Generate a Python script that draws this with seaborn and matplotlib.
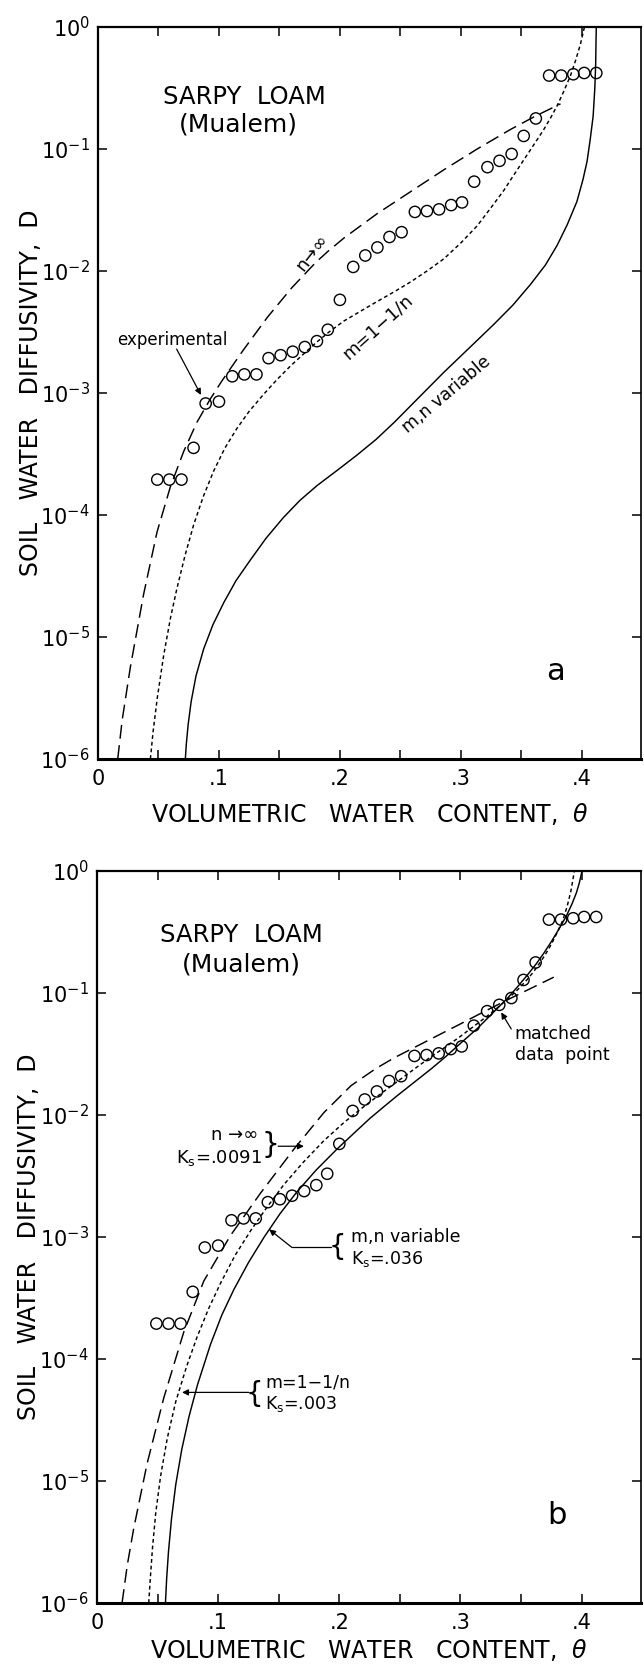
import numpy as np
import matplotlib
matplotlib.use("Agg")
import matplotlib.pyplot as plt
import seaborn as sns
from matplotlib.ticker import FixedLocator, FixedFormatter, NullLocator

# ---------------------------------------------------------------------------
# Measured diffusivity, Sarpy loam (volumetric water content, D)
# ---------------------------------------------------------------------------
theta_obs = [0.049, 0.059, 0.069, 0.079, 0.089, 0.100, 0.111, 0.121, 0.131,
             0.141, 0.151, 0.161, 0.171, 0.181, 0.190, 0.200, 0.211, 0.221,
             0.231, 0.241, 0.251, 0.262, 0.272, 0.282, 0.292, 0.301, 0.311,
             0.322, 0.332, 0.342, 0.352, 0.362, 0.373, 0.383, 0.393, 0.402,
             0.412]
D_obs = [1.95e-4, 1.95e-4, 1.95e-4, 3.55e-4, 8.2e-4, 8.5e-4, 1.37e-3, 1.42e-3,
         1.42e-3, 1.93e-3, 2.04e-3, 2.18e-3, 2.38e-3, 2.66e-3, 3.3e-3, 5.8e-3,
         0.0108, 0.0134, 0.0156, 0.0190, 0.0208, 0.0305, 0.0310, 0.0320,
         0.0347, 0.0365, 0.054, 0.071, 0.080, 0.091, 0.128, 0.178, 0.40, 0.40,
         0.41, 0.42, 0.42]

# ---------------------------------------------------------------------------
# Predicted curves, panel a  (theta, log10 D)
# ---------------------------------------------------------------------------
a_inf_theta = [0.0163, 0.020, 0.0267, 0.0377, 0.0488, 0.0598, 0.0708, 0.0818,
               0.0928, 0.1025, 0.120, 0.140, 0.160, 0.180, 0.190, 0.2033,
               0.2308, 0.2584, 0.286, 0.3135, 0.341, 0.3617, 0.3824]
a_inf_logD = [-6.0, -5.68, -5.25, -4.65, -4.14, -3.77, -3.48, -3.24, -3.05,
              -2.90, -2.65, -2.38, -2.14, -1.93, -1.84, -1.73, -1.53, -1.35,
              -1.17, -1.00, -0.84, -0.73, -0.63]

a_vg_theta = [0.0433, 0.0455, 0.0490, 0.0543, 0.0600, 0.0653, 0.0720, 0.0791,
              0.0870, 0.0956, 0.105, 0.1149, 0.125, 0.137, 0.148, 0.159, 0.170,
              0.180, 0.191, 0.2033, 0.217, 0.2308, 0.245, 0.2584, 0.272,
              0.286, 0.300, 0.3135, 0.325, 0.3355, 0.344, 0.352, 0.360,
              0.3686, 0.3745, 0.3796, 0.385, 0.3906, 0.395, 0.3989, 0.4022]
a_vg_logD = [-6.0, -5.78, -5.50, -5.15, -4.84, -4.60, -4.33, -4.08, -3.85,
             -3.64, -3.45, -3.29, -3.15, -3.01, -2.89, -2.78, -2.68, -2.59,
             -2.50, -2.41, -2.33, -2.25, -2.17, -2.09, -2.00, -1.90, -1.77,
             -1.63, -1.48, -1.34, -1.21, -1.09, -0.97, -0.84, -0.74, -0.645,
             -0.53, -0.40, -0.27, -0.14, 0.0]

a_mn_theta = [0.0722, 0.0730, 0.0745, 0.0770, 0.0810, 0.0873, 0.095, 0.1039,
              0.114, 0.1259, 0.139, 0.1534, 0.167, 0.181, 0.197, 0.214, 0.230,
              0.245, 0.265, 0.286, 0.306, 0.327, 0.343, 0.3576, 0.370, 0.3796,
              0.388, 0.396, 0.401, 0.4044, 0.407, 0.4094, 0.4108, 0.4115,
              0.4118, 0.4120]
a_mn_logD = [-6.0, -5.88, -5.72, -5.53, -5.32, -5.10, -4.90, -4.72, -4.54,
             -4.37, -4.19, -4.02, -3.88, -3.76, -3.64, -3.51, -3.38, -3.24,
             -3.04, -2.83, -2.64, -2.44, -2.28, -2.11, -1.95, -1.79, -1.62,
             -1.43, -1.25, -1.10, -0.92, -0.73, -0.50, -0.30, -0.10, 0.0]

# ---------------------------------------------------------------------------
# Predicted curves, panel b  (theta, log10 D)
# ---------------------------------------------------------------------------
b_inf_theta = [0.0207, 0.025, 0.0303, 0.0413, 0.0551, 0.0716, 0.0882, 0.110,
               0.135, 0.1625, 0.1873, 0.2096, 0.230, 0.2455, 0.273, 0.3006,
               0.320, 0.342, 0.377]
b_inf_logD = [-6.0, -5.69, -5.39, -4.86, -4.32, -3.78, -3.36, -2.99, -2.64,
              -2.28, -1.98, -1.76, -1.62, -1.53, -1.39, -1.25, -1.15, -1.04,
              -0.87]

b_vg_theta = [0.0427, 0.0440, 0.0458, 0.0485, 0.0525, 0.0580, 0.0650, 0.0740,
              0.0826, 0.092, 0.1019, 0.114, 0.1267, 0.140, 0.1543, 0.170,
              0.1873, 0.204, 0.2204, 0.235, 0.250, 0.263, 0.276, 0.288, 0.300,
              0.310, 0.320, 0.330, 0.340, 0.348, 0.355, 0.360, 0.365, 0.370,
              0.375, 0.380, 0.3846, 0.388, 0.391, 0.394]
b_vg_logD = [-6.0, -5.80, -5.55, -5.26, -4.96, -4.65, -4.35, -4.06, -3.82,
             -3.59, -3.38, -3.15, -2.95, -2.76, -2.57, -2.39, -2.21, -2.06,
             -1.93, -1.82, -1.71, -1.615, -1.52, -1.44, -1.355, -1.28, -1.205,
             -1.125, -1.04, -0.965, -0.89, -0.83, -0.76, -0.685, -0.60, -0.50,
             -0.40, -0.29, -0.17, 0.0]

b_mn_theta = [0.0565, 0.0575, 0.0590, 0.0615, 0.0650, 0.0700, 0.0760, 0.0830,
              0.0937, 0.103, 0.113, 0.125, 0.138, 0.151, 0.165, 0.181, 0.198,
              0.212, 0.225, 0.237, 0.248, 0.262, 0.276, 0.288, 0.298, 0.306,
              0.314, 0.323, 0.331, 0.339, 0.347, 0.355, 0.3626, 0.369, 0.3749,
              0.381, 0.3873, 0.392, 0.3956, 0.398, 0.4003]
b_mn_logD = [-6.0, -5.80, -5.58, -5.31, -5.03, -4.74, -4.47, -4.21, -3.88,
             -3.64, -3.43, -3.21, -3.00, -2.81, -2.63, -2.45, -2.28, -2.15,
             -2.03, -1.93, -1.84, -1.73, -1.62, -1.52, -1.43, -1.36, -1.29,
             -1.20, -1.12, -1.04, -0.95, -0.855, -0.76, -0.67, -0.58, -0.48,
             -0.37, -0.27, -0.18, -0.10, 0.0]

# axis ticks
x_major = [0.0, 0.1, 0.2, 0.3, 0.4]
x_major_labels = ["0", ".1", ".2", ".3", ".4"]
x_minor = [0.05, 0.15, 0.25, 0.35]
y_major = [1e-6, 1e-5, 1e-4, 1e-3, 1e-2, 1e-1, 1e0]
y_major_labels = ["$10^{-6}$", "$10^{-5}$", "$10^{-4}$", "$10^{-3}$",
                  "$10^{-2}$", "$10^{-1}$", "$10^{0}$"]

LONG_DASH = (0, (9.5, 4.5))
SHORT_DASH = (0, (2.6, 2.0))

sns.set_theme(style="ticks")
plt.rcParams["font.family"] = ["DejaVu Sans"]
plt.rcParams["mathtext.default"] = "regular"
plt.rcParams["axes.edgecolor"] = "black"

fig = plt.figure(figsize=(6.44, 16.68), dpi=100)
fig.patch.set_facecolor("white")
ax_a = fig.add_axes([0.1522, 0.5450, 0.8432, 0.4388])
ax_b = fig.add_axes([0.1506, 0.0390, 0.8448, 0.4388])


def draw_curve(ax, th, logd, ls):
    sns.lineplot(x=th, y=10 ** np.asarray(logd), ax=ax, color="black",
                 linewidth=1.05, linestyle=ls, sort=False, estimator=None)


def style_axes(ax, xlabel_y):
    ax.set_yscale("log")
    ax.set_xlim(0, 0.449)
    ax.set_ylim(1e-6, 1.0)
    ax.xaxis.set_major_locator(FixedLocator(x_major))
    ax.xaxis.set_major_formatter(FixedFormatter(x_major_labels))
    ax.xaxis.set_minor_locator(FixedLocator(x_minor))
    ax.yaxis.set_major_locator(FixedLocator(y_major))
    ax.yaxis.set_major_formatter(FixedFormatter(y_major_labels))
    ax.yaxis.set_minor_locator(NullLocator())
    ax.tick_params(axis="both", which="both", direction="in", top=True,
                   right=True, length=6.5, width=1.1, color="black",
                   labelsize=15, pad=7, labelcolor="black")
    ax.tick_params(axis="y", which="both", pad=6)
    for side, lw in (("bottom", 2.2), ("left", 1.6), ("top", 1.6), ("right", 1.2)):
        ax.spines[side].set_visible(True)
        ax.spines[side].set_linewidth(lw)
        ax.spines[side].set_color("black")
    ax.set_xlabel(r"VOLUMETRIC   WATER   CONTENT,  $\mathit{\theta}$",
                  fontsize=17, color="black")
    ax.set_ylabel("SOIL   WATER   DIFFUSIVITY,  D", fontsize=17,
                  color="black")
    ax.xaxis.set_label_coords(0.5, xlabel_y)
    ax.yaxis.set_label_coords(-0.102, 0.5)
    ax.set_facecolor("white")
    ax.grid(False)


def draw_obs(ax):
    sns.scatterplot(x=theta_obs, y=D_obs, ax=ax, marker="o", s=66,
                    facecolor="none", edgecolor="black", linewidth=1.0,
                    zorder=4)


def logpos(v):
    return 10 ** v


arrow_kw = dict(arrowstyle="-|>", color="black", lw=0.9, shrinkA=0,
                shrinkB=0, mutation_scale=9)

# ------------------------------- panel a ----------------------------------
draw_curve(ax_a, a_inf_theta, a_inf_logD, LONG_DASH)
draw_curve(ax_a, a_vg_theta, a_vg_logD, SHORT_DASH)
draw_curve(ax_a, a_mn_theta, a_mn_logD, "-")
draw_obs(ax_a)
style_axes(ax_a, -0.058)

ax_a.text(0.121, logpos(-0.574), "SARPY  LOAM", fontsize=17.5, ha="center",
          va="center", color="black")
ax_a.text(0.116, logpos(-0.803), "(Mualem)", fontsize=18, ha="center",
          va="center", color="black")
ax_a.text(0.0612, logpos(-2.566), "experimental", fontsize=12, ha="center",
          va="center", color="black")
ax_a.annotate("", xy=(0.0851, logpos(-3.016)), xytext=(0.065, logpos(-2.64)),
              arrowprops=arrow_kw)
ax_a.text(0.177, logpos(-1.852), "n\u2192\u221e", fontsize=13, rotation=52,
          ha="center", va="center", rotation_mode="anchor", color="black")
ax_a.text(0.2314, logpos(-2.459), "m=1\u22121/n", fontsize=13, rotation=42,
          ha="center", va="center", rotation_mode="anchor", color="black")
ax_a.text(0.2884, logpos(-3.016), "m,n variable", fontsize=12.5, rotation=40,
          ha="center", va="center", rotation_mode="anchor", color="black")
ax_a.text(0.3785, logpos(-5.287), "a", fontsize=22, ha="center", va="center",
          color="black")

# ------------------------------- panel b ----------------------------------
draw_curve(ax_b, b_inf_theta, b_inf_logD, LONG_DASH)
draw_curve(ax_b, b_vg_theta, b_vg_logD, SHORT_DASH)
draw_curve(ax_b, b_mn_theta, b_mn_logD, "-")
draw_obs(ax_b)
style_axes(ax_b, -0.047)

ax_b.text(0.119, logpos(-0.524), "SARPY  LOAM", fontsize=17.5, ha="center",
          va="center", color="black")
ax_b.text(0.119, logpos(-0.769), "(Mualem)", fontsize=18, ha="center",
          va="center", color="black")

# n -> infinity label with brace
ax_b.text(0.1335, logpos(-2.160), "n \u2192\u221e", fontsize=13, ha="right",
          va="center", color="black")
ax_b.text(0.1365, logpos(-2.353), "K$_s$=.0091", fontsize=13, ha="right",
          va="center", color="black")
ax_b.text(0.1430, logpos(-2.25), "}", fontsize=20, ha="center", va="center",
          color="black")
ax_b.annotate("", xy=(0.1708, logpos(-2.256)), xytext=(0.1495, logpos(-2.256)),
              arrowprops=arrow_kw)

# m,n variable label with elbow arrow
ax_b.text(0.1983, logpos(-3.085), "{", fontsize=20, ha="center", va="center",
          color="black")
ax_b.text(0.2099, logpos(-3.003), "m,n variable", fontsize=12.5, ha="left",
          va="center", color="black")
ax_b.text(0.2099, logpos(-3.183), "K$_s$=.036", fontsize=12.5, ha="left",
          va="center", color="black")
ax_b.plot([0.1931, 0.1608], [logpos(-3.085), logpos(-3.085)], color="black",
          lw=0.9)
ax_b.annotate("", xy=(0.1421, logpos(-2.938)), xytext=(0.1608, logpos(-3.085)),
              arrowprops=arrow_kw)

# m = 1 - 1/n label
ax_b.text(0.1295, logpos(-4.288), "{", fontsize=20, ha="center", va="center",
          color="black")
ax_b.text(0.1388, logpos(-4.194), "m=1\u22121/n", fontsize=12.5, ha="left",
          va="center", color="black")
ax_b.text(0.1388, logpos(-4.370), "K$_s$=.003", fontsize=12.5, ha="left",
          va="center", color="black")
ax_b.annotate("", xy=(0.0702, logpos(-4.274)), xytext=(0.1254, logpos(-4.274)),
              arrowprops=arrow_kw)

# matched data point
ax_b.text(0.3446, logpos(-1.338), "matched", fontsize=12.5, ha="left",
          va="center", color="black")
ax_b.text(0.3446, logpos(-1.51), "data  point", fontsize=12.5, ha="left",
          va="center", color="black")
ax_b.annotate("", xy=(0.3336, logpos(-1.159)), xytext=(0.3419, logpos(-1.295)),
              arrowprops=arrow_kw)

ax_b.text(0.3798, logpos(-5.284), "b", fontsize=22, ha="center", va="center",
          color="black")

fig.savefig("out.png", dpi=100, facecolor="white")
